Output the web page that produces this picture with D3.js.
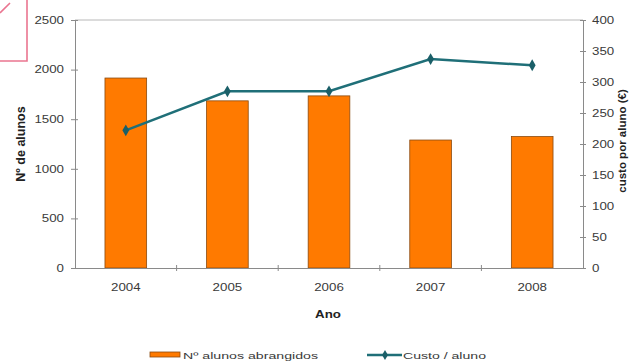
<!DOCTYPE html>
<html>
<head>
<meta charset="utf-8">
<script src="https://cdn.jsdelivr.net/npm/d3@7"></script>
<style>
  body { margin: 0; background: #fff; }
  svg { font-family: "Liberation Sans", Arial, sans-serif; }
</style>
</head>
<body>
<svg id="chart" width="633" height="362"></svg>
<script>
// Data: students covered per year and cost per student (€)
const years = ["2004", "2005", "2006", "2007", "2008"];
const alunos = [1915, 1685, 1735, 1290, 1325];
const custo = [222, 285, 285, 337, 327];
const alunosTicks = [0, 500, 1000, 1500, 2000, 2500];
const custoTicks = [0, 50, 100, 150, 200, 250, 300, 350, 400];

const svg = d3.select("#chart");
const m = { left: 75, right: 583, top: 20, bottom: 268 };

const x = d3.scaleBand().domain(years).range([m.left, m.right]).paddingInner(0.59).paddingOuter(0.295);
const yL = d3.scaleLinear().domain([0, 2500]).range([m.bottom, m.top]);
const yR = d3.scaleLinear().domain([0, 400]).range([m.bottom, m.top]);

const textCol = "#3a3a3a";
const axisCol = "#8a8a8a";
const orange = "#ff7a00";
const teal = "#1f6f78";

// stamp corner in top-left
svg.append("path")
  .attr("d", "M27,0 L27,61 L0,61 M0,13 L10,3")
  .attr("fill", "none").attr("stroke", "#ea7590").attr("stroke-width", 1.6);

// plot frame top
svg.append("line").attr("x1", m.left).attr("x2", m.right).attr("y1", m.top).attr("y2", m.top)
  .attr("stroke", "#b8b8b8").attr("stroke-width", 1);

// bars
svg.append("g").selectAll("rect").data(years).join("rect")
  .attr("x", d => x(d))
  .attr("y", (d, i) => yL(alunos[i]))
  .attr("width", x.bandwidth())
  .attr("height", (d, i) => yL(0) - yL(alunos[i]))
  .attr("fill", orange)
  .attr("stroke", "#8a4a10").attr("stroke-width", 0.8);

// left axis
const gL = svg.append("g").attr("transform", `translate(${m.left},0)`)
  .call(d3.axisLeft(yL).tickValues(alunosTicks).tickFormat(d3.format("d"))
    .tickSize(4).tickSizeOuter(0).tickPadding(7));
// right axis
const gR = svg.append("g").attr("transform", `translate(${m.right},0)`)
  .call(d3.axisRight(yR).tickValues(custoTicks).tickFormat(d3.format("d"))
    .tickSize(4).tickSizeOuter(0).tickPadding(5));
gR.selectAll(".tick line").attr("x1", -3).attr("x2", 3);
gL.selectAll(".tick line").attr("x1", -4).attr("x2", 3);

// x axis with ticks between categories
const gX = svg.append("g").attr("transform", `translate(0,${m.bottom})`)
  .call(d3.axisBottom(x).tickSize(0).tickPadding(16));
const bounds = years.slice(1).map(d => x(d) - x.step() * x.paddingInner() / 2);
gX.selectAll(".bnd").data(bounds).join("line")
  .attr("x1", d => d).attr("x2", d => d).attr("y1", -3).attr("y2", 3)
  .attr("stroke", axisCol);

[gL, gR, gX].forEach(g => {
  g.select(".domain").attr("stroke", axisCol);
  g.selectAll(".tick line").attr("stroke", axisCol);
  g.selectAll("text").attr("fill", textCol).style("font-size", "10px").classed("wide", true);
});

// cost line
const line = d3.line().x((d, i) => x(years[i]) + x.bandwidth() / 2).y(d => yR(d));
svg.append("path").datum(custo).attr("d", line)
  .attr("fill", "none").attr("stroke", teal).attr("stroke-width", 2.5);
svg.append("g").selectAll("path").data(custo).join("path")
  .attr("transform", (d, i) => `translate(${x(years[i]) + x.bandwidth() / 2},${yR(d)})`)
  .attr("d", d3.symbol(d3.symbolDiamond, 40))
  .attr("fill", "#1a5f68");

// axis titles
svg.append("text").attr("transform", `translate(25,${(m.top + m.bottom) / 2}) rotate(-90)`)
  .attr("text-anchor", "middle").attr("fill", "#222").style("font-size", "12.5px").style("font-weight", "bold")
  .text("Nº de alunos");
svg.append("text").attr("transform", `translate(626,141) rotate(-90)`)
  .attr("text-anchor", "middle").attr("fill", "#222").style("font-size", "11.5px").style("font-weight", "bold")
  .text("custo por aluno (€)");
svg.append("text").attr("x", 328).attr("y", 318)
  .attr("text-anchor", "middle").attr("fill", "#222").style("font-size", "10px").style("font-weight", "bold")
  .classed("wide", true)
  .text("Ano");

// horizontally widened lettering
svg.selectAll("text.wide").each(function () {
  const w = this.getComputedTextLength();
  d3.select(this).attr("textLength", w * 1.33).attr("lengthAdjust", "spacingAndGlyphs");
});

// legend
const lg = svg.append("g").style("font-size", "9.5px").attr("fill", textCol);
lg.append("rect").attr("x", 150).attr("y", 352).attr("width", 30).attr("height", 5)
  .attr("fill", orange).attr("stroke", "#8a4a10").attr("stroke-width", 0.8);
lg.append("text").attr("x", 183).attr("y", 358.5)
  .attr("textLength", 135).attr("lengthAdjust", "spacingAndGlyphs").text("Nº alunos abrangidos");
lg.append("line").attr("x1", 367).attr("x2", 402).attr("y1", 355).attr("y2", 355)
  .attr("stroke", teal).attr("stroke-width", 2.5);
lg.append("path").attr("transform", "translate(385,355)").attr("d", d3.symbol(d3.symbolDiamond, 30)).attr("fill", "#1a5f68");
lg.append("text").attr("x", 403).attr("y", 358.5)
  .attr("textLength", 83).attr("lengthAdjust", "spacingAndGlyphs").text("Custo / aluno");
</script>
</body>
</html>
